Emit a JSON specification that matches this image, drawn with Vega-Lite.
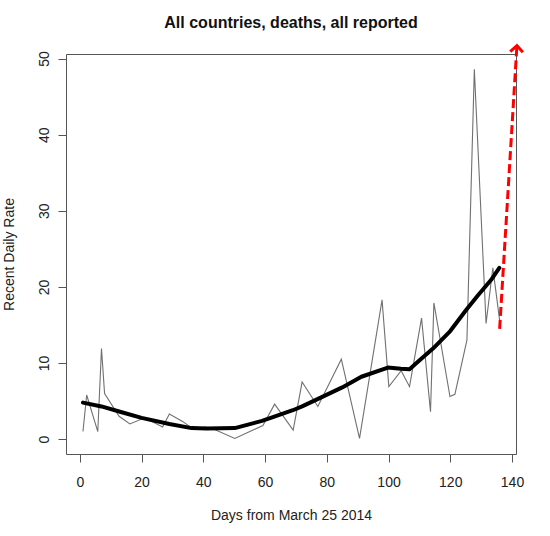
{
  "$schema": "https://vega.github.io/schema/vega-lite/v6.json",
  "autosize": {"type": "none"},
  "width": 450,
  "height": 400,
  "padding": {"left": 66, "top": 54, "right": 34, "bottom": 82},
  "background": "white",
  "title": {
    "text": "All countries, deaths, all reported",
    "font": "Liberation Sans",
    "fontSize": 16,
    "fontWeight": "bold",
    "color": "#111",
    "anchor": "middle",
    "baseline": "alphabetic",
    "offset": 26,
    "dy": 30
  },
  "config": {
    "view": {"stroke": "#555", "strokeWidth": 1},
    "axis": {
      "grid": false,
      "domain": false,
      "tickColor": "#555",
      "tickSize": 8,
      "labelFont": "Liberation Sans",
      "labelFontSize": 14,
      "labelColor": "#222",
      "titleFont": "Liberation Sans",
      "titleFontSize": 14,
      "titleFontWeight": "normal",
      "titleColor": "#222"
    }
  },
  "datasets": {
    "raw": [
      {"day": 1.0, "rate": 1.0},
      {"day": 2.2, "rate": 5.8},
      {"day": 5.8, "rate": 1.0},
      {"day": 7.0, "rate": 11.9},
      {"day": 8.0, "rate": 6.0},
      {"day": 12.7, "rate": 3.0},
      {"day": 16.2, "rate": 2.0},
      {"day": 21.0, "rate": 2.8},
      {"day": 26.8, "rate": 1.6},
      {"day": 29.0, "rate": 3.3},
      {"day": 33.4, "rate": 2.3},
      {"day": 36.4, "rate": 1.4},
      {"day": 40.8, "rate": 1.6},
      {"day": 44.0, "rate": 1.2},
      {"day": 50.2, "rate": 0.1},
      {"day": 59.3, "rate": 1.8},
      {"day": 63.1, "rate": 4.6},
      {"day": 69.1, "rate": 1.2},
      {"day": 72.0, "rate": 7.5},
      {"day": 77.1, "rate": 4.3},
      {"day": 84.7, "rate": 10.5},
      {"day": 90.6, "rate": 0.1},
      {"day": 97.9, "rate": 18.3},
      {"day": 100.1, "rate": 6.9},
      {"day": 104.1, "rate": 9.0},
      {"day": 106.8, "rate": 6.9},
      {"day": 110.7, "rate": 15.9},
      {"day": 113.6, "rate": 3.6},
      {"day": 114.7, "rate": 17.9},
      {"day": 119.9, "rate": 5.6},
      {"day": 121.5, "rate": 5.9},
      {"day": 125.4, "rate": 13.0},
      {"day": 127.8, "rate": 48.6},
      {"day": 131.6, "rate": 15.2},
      {"day": 133.8, "rate": 22.5},
      {"day": 136.0, "rate": 15.6}
    ],
    "smooth": [
      {"day": 1.0, "rate": 4.8},
      {"day": 7.0, "rate": 4.3},
      {"day": 13.0, "rate": 3.6},
      {"day": 20.0, "rate": 2.8},
      {"day": 29.0, "rate": 2.0},
      {"day": 36.2, "rate": 1.45},
      {"day": 41.0, "rate": 1.4},
      {"day": 50.2, "rate": 1.45},
      {"day": 59.0, "rate": 2.4},
      {"day": 63.0, "rate": 2.95},
      {"day": 69.0, "rate": 3.8},
      {"day": 72.0, "rate": 4.3},
      {"day": 77.5, "rate": 5.35},
      {"day": 85.0, "rate": 6.8},
      {"day": 91.2, "rate": 8.2},
      {"day": 99.8, "rate": 9.4},
      {"day": 104.0, "rate": 9.25},
      {"day": 106.8, "rate": 9.2},
      {"day": 110.7, "rate": 10.6},
      {"day": 114.4, "rate": 11.9},
      {"day": 120.0, "rate": 14.2},
      {"day": 125.2, "rate": 17.0},
      {"day": 129.0, "rate": 18.9},
      {"day": 133.2, "rate": 20.9},
      {"day": 135.9, "rate": 22.5}
    ],
    "arrow": [
      {"day": 136.0, "rate": 14.5},
      {"day": 141.6, "rate": 51.7}
    ],
    "arrowhead": [
      {"day": 141.6, "rate": 51.7}
    ]
  },
  "encoding": {
    "x": {
      "field": "day",
      "type": "quantitative",
      "scale": {"domain": [-4.5, 141.3], "nice": false, "zero": false},
      "axis": {
        "values": [0, 20, 40, 60, 80, 100, 120, 140],
        "title": "Days from March 25 2014",
        "labelPadding": 13,
        "titlePadding": 19
      }
    },
    "y": {
      "field": "rate",
      "type": "quantitative",
      "scale": {"domain": [-1.95, 50.6], "nice": false, "zero": false},
      "axis": {
        "values": [0, 10, 20, 30, 40, 50],
        "title": "Recent Daily Rate",
        "labelAngle": 270,
        "labelAlign": "center",
        "labelBaseline": "bottom",
        "labelPadding": 7,
        "titlePadding": 21
      }
    }
  },
  "layer": [
    {
      "data": {"name": "raw"},
      "mark": {"type": "line", "color": "#707070", "strokeWidth": 1.1},
      "encoding": {"order": {"field": "day", "type": "quantitative"}}
    },
    {
      "data": {"name": "smooth"},
      "mark": {"type": "line", "color": "#000000", "strokeWidth": 4, "strokeJoin": "round", "strokeCap": "round"},
      "encoding": {}
    },
    {
      "data": {"name": "arrow"},
      "mark": {"type": "line", "color": "#ff0000", "strokeWidth": 3, "strokeDash": [9, 4], "clip": false},
      "encoding": {}
    },
    {
      "data": {"name": "arrowhead"},
      "mark": {"type": "point", "shape": "M-1,1L0,0L1,1", "filled": false, "stroke": "#ff0000", "strokeWidth": 3, "size": 160, "angle": 3.5, "opacity": 1, "clip": false},
      "encoding": {}
    }
  ]
}
